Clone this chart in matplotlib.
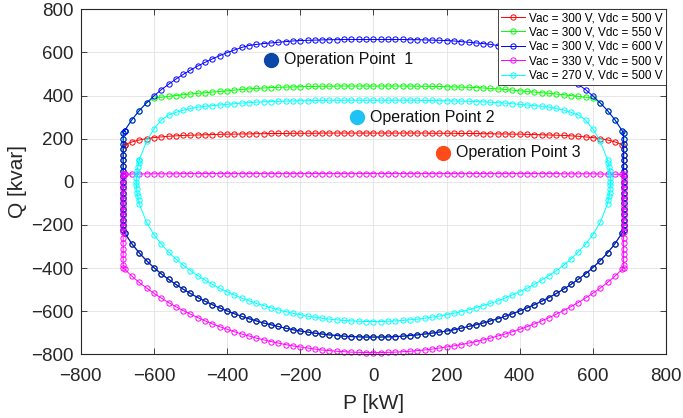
import numpy as np
import matplotlib.pyplot as plt

plt.rcParams['font.family'] = ['Liberation Sans', 'DejaVu Sans']

# P samples along the upper and lower boundaries (kW)
p_grid = np.arange(-680, 681, 20)
p_grid_270 = np.arange(-640, 641, 20)
p_lim = 684  # active power limit (kW), vertical sides

# upper boundaries, Q in kvar on p_grid
q_top_500 = [172, 185, 194, 200, 205, 208, 211, 213, 215, 216, 217, 218, 219, 220, 221, 221, 222,
             222, 223, 223, 224, 224, 224, 225, 225, 225, 225, 226, 226, 226, 226, 226, 226, 226,
             226,
             226, 226, 226, 226, 226, 226, 226, 225, 225, 225, 225, 224, 224, 224, 223, 223, 222,
             222, 221, 221, 220, 219, 218, 217, 216, 215, 213, 211, 208, 205, 200, 194, 185, 172]
q_top_550 = [237, 288, 330, 366, 388, 392, 396, 400, 404, 407, 410, 413, 416, 419, 422, 425, 428,
             431, 433, 435, 437, 438, 439, 440, 441, 442, 442, 443, 443, 444, 444, 444, 444, 444,
             444,
             444, 444, 444, 444, 444, 443, 443, 442, 442, 441, 440, 439, 438, 437, 435, 433, 431,
             428, 425, 422, 419, 416, 413, 410, 407, 404, 400, 396, 392, 388, 366, 330, 288, 237]
q_top_600 = [237, 288, 330, 366, 398, 427, 452, 476, 498, 518, 537, 554, 570, 585, 599, 611, 623,
             632, 637, 641, 644, 647, 650, 653, 655, 656, 657, 658, 659, 659, 660, 660, 660, 660,
             660,
             660, 660, 660, 660, 659, 659, 658, 657, 656, 655, 653, 650, 647, 644, 641, 637, 632,
             623, 611, 599, 585, 570, 554, 537, 518, 498, 476, 452, 427, 398, 366, 330, 288, 237]
q_top_330 = [35, 36, 36, 37, 37, 37, 37, 37, 38, 38, 38, 38, 38, 38, 38, 38, 38,
             38, 38, 38, 38, 38, 38, 38, 38, 38, 38, 38, 38, 38, 38, 38, 38, 38,
             38,
             38, 38, 38, 38, 38, 38, 38, 38, 38, 38, 38, 38, 38, 38, 38, 38, 38,
             38, 38, 38, 38, 38, 38, 38, 38, 37, 37, 37, 37, 37, 36, 36, 35, 35]
# lower boundaries
q_bot_300 = [-237, -288, -330, -366, -398, -427, -452, -476, -498, -518, -537, -554, -570, -585,
             -599, -612, -624, -635, -645, -655, -663, -671, -679, -686, -692, -697, -702, -706,
             -710, -713, -716, -718, -719, -720,
             -720,
             -720, -719, -718, -716, -713, -710, -706, -702, -697, -692, -686, -679, -671, -663,
             -655, -645, -635, -624, -612, -599, -585, -570, -554, -537, -518, -498, -476, -452,
             -427, -398, -366, -330, -288, -237]
q_bot_330 = [-406, -438, -467, -493, -517, -539, -560, -579, -597, -614, -630, -645, -659, -672,
             -684, -695, -706, -715, -725, -733, -741, -748, -755, -761, -766, -771, -776, -780,
             -783, -786, -788, -790, -791, -792,
             -792,
             -792, -791, -790, -788, -786, -783, -780, -776, -771, -766, -761, -755, -748, -741,
             -733, -725, -715, -706, -695, -684, -672, -659, -645, -630, -614, -597, -579, -560,
             -539, -517, -493, -467, -438, -406]
# Vac = 270 V curve on p_grid_270
q_top_270 = [102, 188, 245, 286, 310, 322, 332, 340, 346, 350, 353, 356, 359, 362, 365, 367,
             369, 371, 372, 373, 374, 375, 376, 376, 377, 377, 378, 378, 378, 378, 378, 378,
             378,
             378, 378, 378, 378, 378, 378, 377, 377, 376, 376, 375, 374, 373, 372, 371, 369,
             367, 365, 362, 359, 356, 353, 350, 346, 340, 332, 322, 310, 286, 245, 188, 102]
q_bot_270 = [-102, -188, -245, -289, -326, -358, -387, -412, -435, -456, -476, -494, -510, -525,
             -539, -552, -564, -574, -584, -594, -602, -610, -616, -623, -628, -633, -637, -640,
             -643, -645, -647, -648,
             -648,
             -648, -647, -645, -643, -640, -637, -633, -628, -623, -616, -610, -602, -594, -584,
             -574, -564, -552, -539, -525, -510, -494, -476, -456, -435, -412, -387, -358, -326,
             -289, -245, -188, -102]

# vertical sides (right side, top to bottom)
q_side_500 = [150, 125, 100, 75, 50, 25, 0, -25, -50, -75, -100, -125, -150, -175, -200, -225]
q_side_300 = [225, 200, 175, 150, 125, 100, 75, 50, 25, 0, -25, -50, -75, -100, -125, -150,
              -175, -200, -225]
q_side_330 = [38, 15, -10, -35, -60, -85, -110, -135, -160, -185, -210, -235, -260, -285, -310,
              -335, -360, -385, -399]
p_side_270_r = [642, 644, 646, 647, 648, 648, 648, 647, 646, 644, 642]
q_side_270_r = [85, 68, 51, 34, 17, 0, -17, -34, -51, -68, -85]
p_side_270_l = [-642, -644, -646, -647, -648, -648, -648, -647, -646, -644, -642]
q_side_270_l = [-85, -68, -51, -34, -17, 0, 17, 34, 51, 68, 85]

labels = ['Vac = 300 V, Vdc = 500 V', 'Vac = 300 V, Vdc = 550 V', 'Vac = 300 V, Vdc = 600 V',
          'Vac = 330 V, Vdc = 500 V', 'Vac = 270 V, Vdc = 500 V']
colors = ['#ff0000', '#00ff00', '#0000ff', '#ff00ff', '#00ffff']

op_p = [-280, -45, 190]
op_q = [565, 300, 135]
op_names = ['Operation Point  1', 'Operation Point 2', 'Operation Point 3']
op_colors = ['#0b47a6', '#1ec3f5', '#ff4a1a']


def closed_loop(q_top, q_side, q_bot):
    n = len(q_side)
    p = np.concatenate([p_grid, np.full(n, p_lim), p_grid[::-1], np.full(n, -p_lim), p_grid[:1]])
    q = np.concatenate([q_top, q_side, np.array(q_bot)[::-1], q_side[::-1], q_top[:1]])
    return p, q


curves = [
    closed_loop(q_top_500, q_side_500, q_bot_300),
    closed_loop(q_top_550, q_side_300, q_bot_300),
    closed_loop(q_top_600, q_side_300, q_bot_300),
    closed_loop(q_top_330, q_side_330, q_bot_330),
    (np.concatenate([p_grid_270, p_side_270_r, p_grid_270[::-1], p_side_270_l, p_grid_270[:1]]),
     np.concatenate([q_top_270, q_side_270_r, np.array(q_bot_270)[::-1], q_side_270_l, q_top_270[:1]])),
]

fig = plt.figure(figsize=(6.83, 4.18), dpi=100)
ax = fig.add_axes([0.1182, 0.1524, 0.857, 0.8254])

for (p, q), c, lab in zip(curves, colors, labels):
    ax.plot(p, q, '-o', color=c, lw=0.7, ms=3.8, mew=0.7, mfc='none', label=lab, clip_on=False)

for p, q, name, c in zip(op_p, op_q, op_names, op_colors):
    ax.plot(p, q, 'o', ms=10, color=c)
    ax.text(p + 35, q, name, fontsize=11.5, va='center', ha='left', color='#111111')

ax.set_xlim(-800, 800)
ax.set_ylim(-800, 800)
ax.set_xticks(np.arange(-800, 801, 200))
ax.set_yticks(np.arange(-800, 801, 200))
ax.grid(True, color='#e3e3e3', lw=0.6)
ax.set_axisbelow(True)
ax.tick_params(direction='in', top=True, right=True, length=4, width=0.6,
               labelsize=13.5, colors='#262626')
ax.tick_params(axis='x', pad=10)
ax.tick_params(axis='y', pad=5)
for s in ax.spines.values():
    s.set_color('#262626')
    s.set_linewidth(0.8)
ax.set_xlabel('P [kW]', fontsize=15, color='#262626', labelpad=6)
ax.set_ylabel('Q [kvar]', fontsize=15, color='#262626', labelpad=3)

leg = ax.legend(loc='upper right', fontsize=8.5, borderaxespad=0, fancybox=False,
                framealpha=1, edgecolor='#262626', handlelength=2.0, handletextpad=0.4,
                labelspacing=0.2, borderpad=0.25)
leg.get_frame().set_linewidth(0.6)

fig.savefig('out.png', dpi=100)
